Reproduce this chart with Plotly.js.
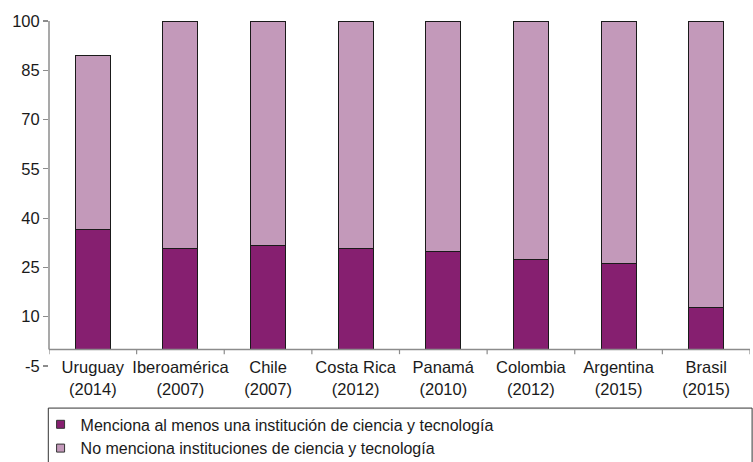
<!DOCTYPE html>
<html>
<head>
<meta charset="utf-8">
<script src="https://cdn.plot.ly/plotly-3.0.1.min.js"></script>
<style>html,body{margin:0;padding:0;background:#fff;}#chart{width:753px;height:462px;}</style>
</head>
<body>
<div id="chart"></div>
<script>
const categories = ["Uruguay<br>(2014)", "Iberoamérica<br>(2007)", "Chile<br>(2007)", "Costa Rica<br>(2012)", "Panamá<br>(2010)", "Colombia<br>(2012)", "Argentina<br>(2015)", "Brasil<br>(2015)"];
const menciona = [36.4, 30.7, 31.8, 30.7, 29.9, 27.3, 26.3, 12.9];
const noMenciona = [53.2, 69.3, 68.2, 69.3, 70.1, 72.7, 73.7, 87.1];
const seriesNames = ["Menciona al menos una institución de ciencia y tecnología", "No menciona instituciones de ciencia y tecnología"];
const yTicks = [-5, 10, 25, 40, 55, 70, 85, 100];

const darkColor = "#861f70";
const lightColor = "#c399ba";
const font = "Liberation Sans, Arial, sans-serif";
const axisGray = "#8c8c8c";

const traces = [
  {type: "bar", x: categories, y: menciona, name: seriesNames[0], marker: {color: darkColor, line: {color: "#1a1a1a", width: 1}}, width: 0.4, showlegend: false, hoverinfo: "skip"},
  {type: "bar", x: categories, y: noMenciona, name: seriesNames[1], marker: {color: lightColor, line: {color: "#1a1a1a", width: 1}}, width: 0.4, showlegend: false, hoverinfo: "skip"},
  {type: "scatter", mode: "markers", x: [null], y: [null], name: seriesNames[0], marker: {symbol: "square", size: 8, color: darkColor, line: {color: "#333", width: 1}}},
  {type: "scatter", mode: "markers", x: [null], y: [null], name: seriesNames[1], marker: {symbol: "square", size: 8, color: lightColor, line: {color: "#333", width: 1}}}
];

const nCat = categories.length;
const shapes = [
  {type: "line", xref: "paper", yref: "y", x0: 0, x1: 0, y0: 0, y1: 100, line: {color: axisGray, width: 1.5}},
  {type: "line", xref: "x", yref: "y", x0: -0.5, x1: nCat - 0.5, y0: 0, y1: 0, line: {color: axisGray, width: 1.5}},
  {type: "rect", xref: "paper", yref: "paper", x0: -0.001, x1: 1.003, y0: -0.122, y1: -0.4, line: {color: "#333", width: 1}, fillcolor: "rgba(0,0,0,0)"}
];
for (let i = 0; i <= nCat; i++) {
  shapes.push({type: "line", xref: "x", yref: "y", x0: i - 0.5, x1: i - 0.5, y0: 0, y1: -1.4, line: {color: axisGray, width: 1.2}});
}

const layout = {
  width: 753, height: 462,
  margin: {l: 49, r: 3, t: 21, b: 96, autoexpand: false},
  barmode: "stack",
  paper_bgcolor: "#fff", plot_bgcolor: "#fff",
  font: {family: font, size: 16.5, color: "#1a1a1a"},
  xaxis: {type: "category", anchor: "free", position: 0.029, showline: false, ticks: "", showgrid: false, zeroline: false, tickfont: {family: font, size: 16.5, color: "#1a1a1a"}, range: [-0.5, nCat - 0.5], fixedrange: true, automargin: false},
  yaxis: {range: [-5, 100], tickvals: yTicks, ticktext: yTicks.map(String), ticks: "outside", ticklen: 5, tickwidth: 1.2, tickcolor: axisGray, showline: false, showgrid: false, zeroline: false, tickfont: {family: font, size: 16.5, color: "#1a1a1a"}, fixedrange: true, automargin: false},
  legend: {x: -0.012, y: -0.12, xanchor: "left", yanchor: "top", orientation: "v", traceorder: "normal", font: {family: font, size: 16, color: "#1a1a1a"}, bgcolor: "rgba(0,0,0,0)", borderwidth: 0, tracegroupgap: 0},
  shapes: shapes,
  showlegend: true
};

Plotly.newPlot("chart", traces, layout, {displayModeBar: false, staticPlot: true});
</script>
</body>
</html>
